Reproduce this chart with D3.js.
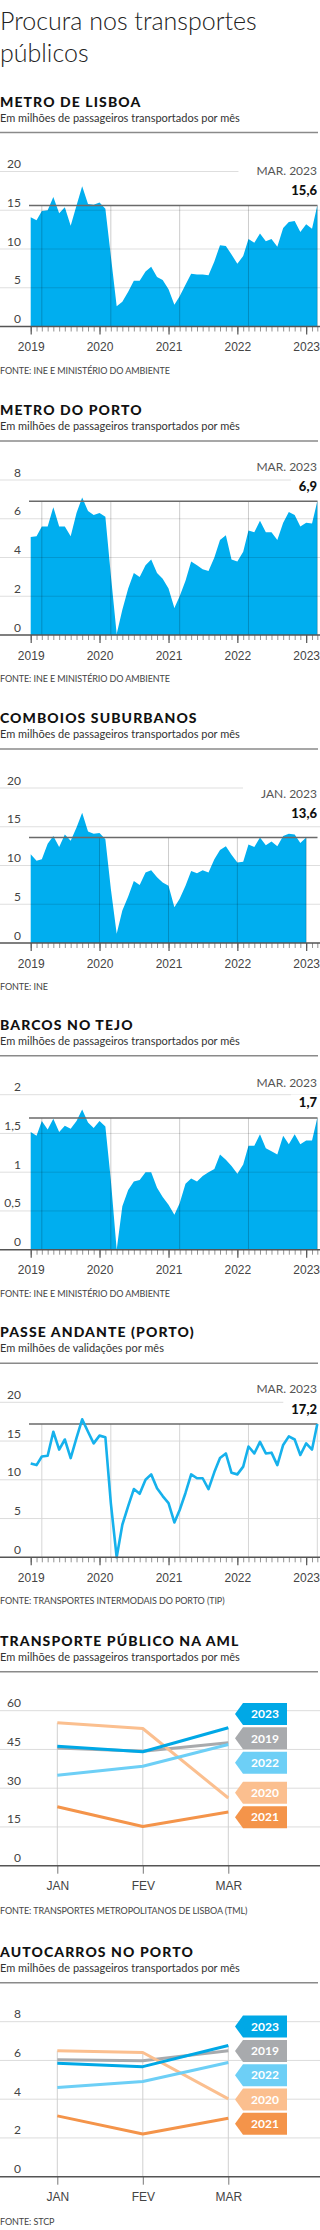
<!DOCTYPE html>
<html>
<head>
<meta charset="utf-8">
<script src="https://cdn.jsdelivr.net/npm/d3@7"></script>
<style>
  body { margin: 0; background: #fff; }
  svg { display: block; font-family: Lato, "Open Sans", sans-serif; }
  .title { font-size: 25px; font-weight: 300; fill: #222; }
  .head { font-size: 14px; font-weight: 900; fill: #111; letter-spacing: 1.1px; }
  .sub { font-size: 11px; font-weight: 400; fill: #333; }
  .tick-label { font-size: 12px; font-weight: 400; fill: #444; }
  .source { font-size: 9px; font-weight: 400; fill: #444; letter-spacing: -0.1px; }
  .when { font-size: 12px; font-weight: 400; fill: #555; }
  .last { font-size: 13px; font-weight: 900; fill: #111; }
  .tag { font-size: 12px; font-weight: 700; fill: #fff; }
</style>
</head>
<body>
<script>
"use strict";

// --- data (millions per month, Jan 2019 .. Mar 2023) ---
const lisboaValues = [14.1, 13.7, 14.9, 15.0, 16.7, 14.6, 15.4, 13.0, 15.6, 18.1, 15.8, 15.7, 16.0, 15.2,
    9.1, 2.6, 3.2, 4.5, 5.9, 5.9, 7.1, 7.7, 6.4, 6.0, 4.8, 2.8, 3.9, 5.4, 6.8, 6.7, 6.7, 6.6, 8.4, 10.5,
    10.4, 9.3, 8.1, 9.1, 11.3, 10.8, 12.0, 11.0, 11.3, 10.3, 12.7, 13.5, 13.6, 12.2, 13.2, 12.6, 15.6];
const portoValues = [5.06, 5.1, 5.6, 5.6, 6.6, 5.6, 5.6, 5.1, 6.3, 7.1, 6.4, 6.2, 6.3, 6.1,
    3.1, 0.05, 1.3, 2.4, 3.2, 3.0, 3.6, 3.9, 3.2, 2.9, 2.4, 1.4, 2.0, 2.8, 3.8, 3.6, 3.4, 3.3, 4.0, 4.9,
    5.15, 3.9, 3.8, 4.3, 5.4, 5.3, 5.9, 5.3, 5.3, 4.9, 5.8, 6.35, 6.2, 5.6, 5.8, 5.75, 6.9];
const comboiosValues = [11.45, 10.6, 10.8, 12.8, 13.8, 12.4, 14.0, 13.2, 14.9, 16.8, 14.4, 14.1, 14.2, 13.4,
    7.0, 1.2, 4.2, 6.0, 8.0, 7.5, 9.1, 9.4, 8.5, 7.8, 7.4, 4.6, 5.7, 7.4, 9.3, 9.0, 9.4, 9.1, 10.8, 12.0,
    12.5, 11.4, 10.4, 10.5, 12.7, 12.4, 13.6, 12.6, 13.1, 12.5, 13.8, 14.1, 14.0, 12.9, 13.6];
const barcosValues = [1.52, 1.47, 1.66, 1.55, 1.69, 1.52, 1.60, 1.56, 1.66, 1.81, 1.64, 1.57, 1.66, 1.59,
    0.9, 0.0, 0.56, 0.77, 0.88, 0.9, 1.0, 1.0, 0.8, 0.68, 0.58, 0.45, 0.6, 0.85, 0.92, 0.88, 0.95, 1.0, 1.04, 1.23,
    1.16, 1.08, 0.98, 1.1, 1.34, 1.34, 1.49, 1.31, 1.27, 1.23, 1.47, 1.36, 1.49, 1.36, 1.41, 1.41, 1.7];
const passeValues = [12.1, 11.9, 13.0, 13.1, 16.2, 13.9, 15.2, 12.8, 15.4, 17.8, 16.2, 14.7, 15.7, 15.5,
    7.0, 0.0, 4.2, 6.6, 8.8, 8.2, 10.0, 10.7, 8.9, 7.9, 7.0, 4.5, 6.1, 8.3, 10.7, 10.2, 10.2, 8.8, 11.0, 12.8,
    13.4, 10.9, 10.7, 11.7, 14.3, 13.4, 14.9, 13.4, 13.5, 11.9, 14.5, 15.6, 15.2, 13.2, 14.7, 13.9, 17.2];

const lisboaTicks = [0, 5, 10, 15, 20];
const portoTicks = [0, 2, 4, 6, 8];
const comboiosTicks = [0, 5, 10, 15, 20];
const barcosTicks = [0, 0.5, 1, 1.5, 2];
const passeTicks = [0, 5, 10, 15, 20];

// first quarter, by year
const quarterMonths = ["JAN", "FEV", "MAR"];
const yearNames = ["2019", "2020", "2021", "2022", "2023"];
const aml2019 = [45.6, 44.3, 47.6];
const aml2020 = [55.3, 53.1, 26.2];
const aml2021 = [22.8, 15.2, 20.8];
const aml2022 = [35.0, 38.5, 46.9];
const aml2023 = [46.2, 44.1, 53.4];
const amlTicks = [0, 15, 30, 45, 60];
const bus2019 = [6.03, 5.98, 6.5];
const bus2020 = [6.5, 6.41, 4.02];
const bus2021 = [3.14, 2.2, 3.02];
const bus2022 = [4.6, 4.91, 5.89];
const bus2023 = [5.86, 5.68, 6.77];
const busTicks = [0, 2, 4, 6, 8];

const ptMonths = ["JAN", "FEV", "MAR", "ABR", "MAI", "JUN", "JUL", "AGO", "SET", "OUT", "NOV", "DEZ"];
const subPassengers = "Em milhões de passageiros transportados por mês";

const W = 320;
const AREA = "#00aeef";
const yearColors = { "2019": "#a8aaad", "2020": "#fbbf8f", "2021": "#f4944a", "2022": "#6dcff6", "2023": "#00a8e6" };

const pt = d3.formatLocale({ decimal: ",", thousands: ".", grouping: [3], currency: ["", " €"] });
const tickFmt = pt.format(".2~f");
const lastFmt = pt.format(".1f");

const svg = d3.select("body").append("svg")
    .attr("width", W)
    .attr("height", 2230);

svg.append("text").attr("class", "title").attr("x", 0).attr("y", 30).text("Procura nos transportes");
svg.append("text").attr("class", "title").attr("x", 0).attr("y", 62).text("públicos");

const dates = d3.timeMonth.range(new Date(2019, 0, 1), new Date(2023, 3, 1));
const x = d3.scaleTime()
    .domain([dates[0], dates[dates.length - 1]])
    .range([30.7, 317.3]);

function header(g, R, title, sub) {
    g.append("text").attr("class", "head").attr("x", 0).attr("y", R - 26).text(title);
    g.append("text").attr("class", "sub").attr("x", 0).attr("y", R - 11).text(sub);
    g.append("line")
        .attr("x1", 0).attr("x2", 318)
        .attr("y1", R).attr("y2", R)
        .attr("stroke", "#8a8a8a").attr("stroke-width", 1.5);
}

function yGrid(g, y, ticks, color) {
    g.selectAll(null)
        .data(ticks.filter(t => t > 0))
        .join("line")
        .attr("x1", 0).attr("x2", W)
        .attr("y1", d => y(d)).attr("y2", d => y(d))
        .attr("stroke", color).attr("stroke-width", 1);
}

function yLabels(g, y, ticks) {
    g.selectAll(null)
        .data(ticks)
        .join("text")
        .attr("class", "tick-label")
        .attr("x", 21)
        .attr("y", d => y(d) - 3.5)
        .attr("text-anchor", "end")
        .text(d => tickFmt(d));
}

function boxedText(g, cls, xPos, yPos, txt, pad) {
    const rect = g.append("rect").attr("fill", "#fff");
    const t = g.append("text")
        .attr("class", cls)
        .attr("x", xPos).attr("y", yPos)
        .attr("text-anchor", "end")
        .text(txt);
    const b = t.node().getBBox();
    rect.attr("x", b.x - pad).attr("y", b.y)
        .attr("width", b.width + pad + 4).attr("height", b.height);
}

function timeChart(cfg) {
    const R = cfg.rule;
    const g = svg.append("g");
    header(g, R, cfg.title, cfg.sub);

    const y = d3.scaleLinear()
        .domain([0, d3.max(cfg.ticks)])
        .range([R + 194, R + 39]);
    const pts = cfg.values.map((v, i) => ({ d: dates[i], v: v }));
    const last = pts[pts.length - 1];

    if (cfg.kind === "area") {
        g.append("path")
            .datum(pts)
            .attr("d", d3.area().x(p => x(p.d)).y0(y(0)).y1(p => y(p.v)))
            .attr("fill", AREA);
    }

    yGrid(g, y, cfg.ticks, cfg.kind === "area" ? "rgba(0,0,0,0.13)" : "#dcdcdc");

    // same month each year, up to the reference value
    g.selectAll(null)
        .data(pts.filter((p, i) => i > 0 && p.d.getMonth() === last.d.getMonth()))
        .join("line")
        .attr("x1", p => x(p.d)).attr("x2", p => x(p.d))
        .attr("y1", y(last.v)).attr("y2", y(0))
        .attr("stroke", cfg.kind === "area" ? "rgba(0,0,0,0.2)" : "#d6d6d6")
        .attr("stroke-width", 1);

    const ay = y(last.v);
    const shift = cfg.labelShift || 0;
    const when = ptMonths[last.d.getMonth()] + ". " + last.d.getFullYear();
    boxedText(g, "when", 317, ay - 30.7 + shift, when, 18);
    boxedText(g, "last", 317, ay - 10.5 + shift, lastFmt(last.v), 8);

    g.append("line")
        .attr("x1", 29).attr("x2", 317.5)
        .attr("y1", ay).attr("y2", ay)
        .attr("stroke", "#6a6a6a").attr("stroke-width", 1.5);

    if (cfg.kind === "line") {
        g.append("path")
            .datum(pts)
            .attr("d", d3.line().x(p => x(p.d)).y(p => y(p.v)))
            .attr("fill", "none")
            .attr("stroke", "#16b1ec")
            .attr("stroke-width", 2.6)
            .attr("stroke-linejoin", "round");
    }

    yLabels(g, y, cfg.ticks);

    // x axis
    const axisG = g.append("g").attr("transform", "translate(0," + y(0) + ")");
    axisG.append("g")
        .call(d3.axisBottom(x).ticks(d3.timeMonth.every(1)).tickSize(5).tickFormat(""))
        .call(a => a.select(".domain").remove())
        .call(a => a.selectAll("line").attr("stroke", "#777").attr("stroke-width", 0.8));
    axisG.append("g")
        .call(d3.axisBottom(x).ticks(d3.timeYear.every(1)).tickSize(8).tickPadding(8)
            .tickFormat(d3.timeFormat("%Y")))
        .call(a => a.select(".domain").remove())
        .call(a => a.selectAll("line").attr("stroke", "#555").attr("stroke-width", 1.2))
        .call(a => a.selectAll("text").attr("class", "tick-label").attr("font-family", null).attr("font-size", null).attr("fill", null));
    axisG.append("line")
        .attr("x1", 0).attr("x2", W)
        .attr("stroke", "#555").attr("stroke-width", 1.5);

    g.append("text").attr("class", "source").attr("x", 0).attr("y", R + 241).text(cfg.source);
}

function dodge(items, gap) {
    let clusters = items.map(it => [it]);
    const center = c => d3.mean(c, it => it.target);
    let merged = true;
    while (merged) {
        merged = false;
        for (let i = 0; i < clusters.length - 1; i++) {
            const a = clusters[i], b = clusters[i + 1];
            const aBottom = center(a) + (a.length - 1) * gap / 2;
            const bTop = center(b) - (b.length - 1) * gap / 2;
            if (bTop - aBottom < gap) {
                clusters.splice(i, 2, a.concat(b));
                merged = true;
                break;
            }
        }
    }
    clusters.forEach(c => {
        const top = center(c) - (c.length - 1) * gap / 2;
        c.forEach((it, k) => it.pos = top + k * gap);
    });
}

function yearChart(cfg) {
    const R = cfg.rule;
    const g = svg.append("g");
    header(g, R, cfg.title, cfg.sub);

    const y = d3.scaleLinear()
        .domain([0, d3.max(cfg.ticks)])
        .range([R + 194, R + 39]);
    const xm = d3.scalePoint().domain(quarterMonths).range([57.3, 228.3]);

    yGrid(g, y, cfg.ticks, "#dcdcdc");

    const series = yearNames.map(name => ({ name: name, values: cfg.series[name] }));

    g.selectAll(null)
        .data(quarterMonths)
        .join("line")
        .attr("x1", m => xm(m)).attr("x2", m => xm(m))
        .attr("y1", (m, i) => y(d3.max(series, s => s.values[i])))
        .attr("y2", y(0))
        .attr("stroke", "#d0d0d0").attr("stroke-width", 1);

    yLabels(g, y, cfg.ticks);

    const axisG = g.append("g").attr("transform", "translate(0," + y(0) + ")");
    axisG.call(d3.axisBottom(xm).tickSize(8).tickPadding(8))
        .call(a => a.select(".domain").remove())
        .call(a => a.selectAll("line").attr("stroke", "#777").attr("stroke-width", 1))
        .call(a => a.selectAll("text").attr("class", "tick-label").attr("font-family", null).attr("font-size", null).attr("fill", null));
    axisG.append("line")
        .attr("x1", 0).attr("x2", W)
        .attr("stroke", "#555").attr("stroke-width", 1.5);

    const line = d3.line().x((v, i) => xm(quarterMonths[i])).y(v => y(v));
    g.selectAll(null)
        .data(series)
        .join("path")
        .attr("d", s => line(s.values))
        .attr("fill", "none")
        .attr("stroke", s => yearColors[s.name])
        .attr("stroke-width", 3)
        .attr("stroke-linejoin", "round");

    const tags = series
        .map(s => ({ name: s.name, target: y(s.values[s.values.length - 1]) }))
        .sort((a, b) => a.target - b.target);
    dodge(tags, 24.3);

    const tg = g.selectAll(null).data(tags).join("g");
    tg.append("path")
        .attr("d", t => "M235," + t.pos + "L243," + (t.pos - 11) + "H287V" + (t.pos + 11) + "H243Z")
        .attr("fill", t => yearColors[t.name]);
    tg.append("text")
        .attr("class", "tag")
        .attr("x", 265).attr("y", t => t.pos + 4.3)
        .attr("text-anchor", "middle")
        .text(t => t.name);

    g.append("text").attr("class", "source").attr("x", 0).attr("y", R + 242).text(cfg.source);
}

timeChart({ rule: 132.5, title: "METRO DE LISBOA", sub: subPassengers, values: lisboaValues,
    ticks: lisboaTicks, kind: "area", source: "FONTE: INE E MINISTÉRIO DO AMBIENTE" });
timeChart({ rule: 441, title: "METRO DO PORTO", sub: subPassengers, values: portoValues,
    ticks: portoTicks, kind: "area", source: "FONTE: INE E MINISTÉRIO DO AMBIENTE" });
timeChart({ rule: 749, title: "COMBOIOS SUBURBANOS", sub: subPassengers, values: comboiosValues,
    ticks: comboiosTicks, kind: "area", source: "FONTE: INE", labelShift: -9 });
timeChart({ rule: 1055.7, title: "BARCOS NO TEJO", sub: subPassengers, values: barcosValues,
    ticks: barcosTicks, kind: "area", source: "FONTE: INE E MINISTÉRIO DO AMBIENTE" });
timeChart({ rule: 1363.3, title: "PASSE ANDANTE (PORTO)", sub: "Em milhões de validações por mês",
    values: passeValues, ticks: passeTicks, kind: "line",
    source: "FONTE: TRANSPORTES INTERMODAIS DO PORTO (TIP)" });

yearChart({ rule: 1671.7, title: "TRANSPORTE PÚBLICO NA AML", sub: subPassengers, ticks: amlTicks,
    series: { "2019": aml2019, "2020": aml2020, "2021": aml2021, "2022": aml2022, "2023": aml2023 },
    source: "FONTE: TRANSPORTES METROPOLITANOS DE LISBOA (TML)" });
yearChart({ rule: 1982.7, title: "AUTOCARROS NO PORTO", sub: subPassengers, ticks: busTicks,
    series: { "2019": bus2019, "2020": bus2020, "2021": bus2021, "2022": bus2022, "2023": bus2023 },
    source: "FONTE: STCP" });
</script>
</body>
</html>
